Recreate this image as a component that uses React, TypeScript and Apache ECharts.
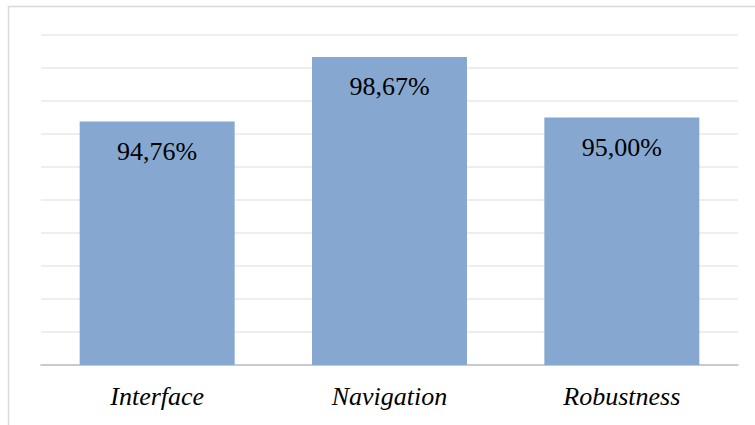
import React, { useEffect, useRef } from "react";
import * as echarts from "echarts";

const categories = ["Interface", "Navigation", "Robustness"];
const values = [94.76, 98.67, 95.0];
const yMin = 80;
const yMax = 100;
const yInterval = 2;

const serif = "Liberation Serif";

export default function App() {
  const ref = useRef<HTMLDivElement>(null);
  useEffect(() => {
    if (!ref.current) return;
    const chart = echarts.init(ref.current, null, { renderer: "svg" });
    chart.setOption({
      animation: false,
      backgroundColor: "#ffffff",
      grid: { left: 41, right: 17, top: 35, bottom: 60, containLabel: false },
      graphic: [
        {
          type: "rect",
          shape: { x: 8.5, y: 6.5, width: 900, height: 600 },
          style: { fill: "none", stroke: "#d9d9d9", lineWidth: 1.5 },
          silent: true,
        },
      ],
      xAxis: {
        type: "category",
        data: categories,
        axisLine: { show: true, lineStyle: { color: "#bfbfbf", width: 1.5 } },
        axisTick: { show: false },
        axisLabel: {
          margin: 18,
          fontFamily: serif,
          fontStyle: "italic",
          fontSize: 26,
          color: "#000000",
        },
      },
      yAxis: {
        type: "value",
        min: yMin,
        max: yMax,
        interval: yInterval,
        axisLine: { show: false },
        axisTick: { show: false },
        axisLabel: { show: false },
        splitLine: { show: true, lineStyle: { color: "#e9e9e9", width: 1.5 } },
      },
      series: [
        {
          type: "bar",
          data: values,
          barWidth: "66.7%",
          itemStyle: { color: "#86a8d0" },
          label: {
            show: true,
            position: "insideTop",
            distance: 17,
            fontFamily: serif,
            fontSize: 26,
            color: "#000000",
            formatter: (p: any) => p.value.toFixed(2).replace(".", ",") + "%",
          },
        },
      ],
    });
    return () => chart.dispose();
  }, []);
  return (
    <div
      ref={ref}
      style={{ position: "fixed", left: 0, top: 0, width: 755, height: 425 }}
    />
  );
}
